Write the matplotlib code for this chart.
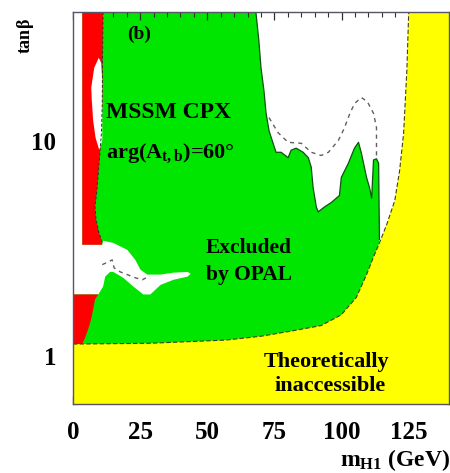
import matplotlib
matplotlib.use("Agg")
import matplotlib.pyplot as plt
from matplotlib.ticker import FixedLocator, NullFormatter, MultipleLocator

plt.rcParams['font.family'] = ['Liberation Serif', 'DejaVu Serif']
plt.rcParams['font.weight'] = 'bold'
plt.rcParams['mathtext.fontset'] = 'custom'
plt.rcParams['mathtext.rm'] = 'Liberation Serif:bold'
plt.rcParams['mathtext.it'] = 'Liberation Serif:bold'
plt.rcParams['mathtext.bf'] = 'Liberation Serif:bold'

# ---- data (mH1 in GeV, tan beta) ----
green_x = [0, 68.1, 69.2, 70.0, 71.1, 71.9, 73.0, 74.5, 75.6, 77.5, 80.1, 81.2, 83.1, 85.7,
           87.6, 88.7, 89.4, 90.6, 91.3, 93.6, 96.2, 99.2, 99.9, 102.5, 104.8, 106.3, 107.4,
           109.3, 110.4, 111.2, 111.9, 113.0, 113.8, 114.1, 113.5, 113.5, 0]
green_y = [40, 40, 29.4, 22.0, 17.2, 13.5, 11.2, 9.8, 8.9, 8.9, 8.4, 9.1, 9.3, 8.9,
           8.4, 7.6, 6.1, 4.95, 4.7, 4.95, 5.2, 5.6, 6.8, 7.9, 9.3, 9.9, 8.8,
           6.8, 6.1, 5.45, 8.2, 8.3, 7.9, 3.5, 3.0, 0.6, 0.6]

red_top_x = [3.4, 11.2, 11.0, 10.9, 10.6, 10.1, 9.0, 8.2, 8.6, 9.7, 10.9, 10.9, 3.4]
red_top_y = [40, 40, 25, 15, 11, 9.1, 6.1, 4.95, 4.3, 3.75, 3.37, 3.3, 3.3]

sliver_x = [9.6, 7.9, 6.8, 7.0, 7.5, 8.4, 9.8, 10.9, 10.9, 10.9, 10.5]
sliver_y = [24.5, 22.0, 17.8, 15.5, 12.5, 10.4, 9.1, 10.1, 13.9, 19.2, 23.2]

white_x = [0, 3.4, 3.4, 10.9, 11.2, 15.0, 20.2, 23.2, 25.1, 27.7, 32.6, 37.4, 42.7, 43.8,
           42.7, 37.4, 32.6, 28.8, 26.2, 22.5, 18.7, 15.0, 13.8, 12.0, 11.2, 9.4, 0]
white_y = [40, 40, 3.3, 3.3, 3.45, 3.37, 3.13, 2.81, 2.53, 2.40, 2.40, 2.45, 2.47, 2.42,
           2.35, 2.27, 2.15, 1.94, 1.94, 2.11, 2.32, 2.47, 2.47, 2.35, 2.11, 1.94, 1.94]

red_low_x = [0, 9.4, 8.2, 7.5, 6.7, 5.6, 4.5, 3.4, 0]
red_low_y = [1.94, 1.94, 1.84, 1.65, 1.48, 1.33, 1.22, 1.14, 1.14]

theory_x = [0, 28.8, 56.9, 70.0, 81.2, 92.4, 99.9, 105.5, 109.3, 111.9, 113.8, 116.8,
            119.8, 121.6, 123.1, 124.3, 125.0]
theory_y = [1.14, 1.15, 1.19, 1.24, 1.31, 1.39, 1.56, 1.88, 2.40, 2.90, 3.3, 4.1,
            5.3, 7.3, 10.9, 21.3, 40]

exp_hi_x = [73.0, 76.3, 80.1, 85.0, 88.7, 92.4, 95.1, 98.8, 101.0, 102.9, 104.8, 107.4,
            109.6, 111.9, 113.0, 113.0]
exp_hi_y = [12.9, 11.0, 9.9, 9.8, 8.9, 8.6, 8.9, 10.1, 11.5, 13.3, 15.0, 16.0,
            15.3, 13.5, 11.6, 8.3]

exp_lo_x = [10.9, 13.1, 14.6, 15.3, 17.6, 20.2, 23.2, 25.8, 28.1]
exp_lo_y = [2.67, 2.75, 2.81, 2.58, 2.47, 2.40, 2.32, 2.27, 2.35]

x_ticks = [0, 25, 50, 75, 100, 125]
y_ticks = [1, 10]
y_tick_labels = ['1', '10']
y_minor = [0.6, 0.7, 0.8, 0.9, 2, 3, 4, 5, 6, 7, 8, 9, 20, 30]

XMAX, YMIN, YMAX = 140, 0.6, 40

GREEN = '#00e600'
RED = '#ff0000'
YELLOW = '#ffff00'

fig = plt.figure(figsize=(4.5, 4.73), dpi=100)
ax = fig.add_axes([73/450, (473-404)/473, (449-73)/450, (404-12)/473])
ax.set_yscale('log')
ax.set_xlim(0, XMAX)
ax.set_ylim(YMIN, YMAX)

ax.fill(green_x, green_y, color=GREEN, lw=0, zorder=1)
ax.plot(green_x[1:34], green_y[1:34], color='#105010', lw=0.9, zorder=5)
ax.fill(red_top_x, red_top_y, color=RED, lw=0, zorder=2)
ax.plot(red_top_x[1:11], red_top_y[1:11], color='#303030', lw=0.7, ls=(0, (3, 2)), zorder=5)
ax.fill(sliver_x, sliver_y, color='white', lw=0, zorder=3)
ax.fill(white_x, white_y, color='white', lw=0, zorder=3)
ax.fill(red_low_x, red_low_y, color=RED, lw=0, zorder=3)

yx = theory_x + [XMAX, XMAX, 0]
yy = theory_y + [YMAX, YMIN, YMIN]
ax.fill(yx, yy, color=YELLOW, lw=0, zorder=4)
ax.plot(theory_x, theory_y, color='#404020', lw=0.8, ls=(0, (4, 2)), zorder=5)

ax.plot(exp_hi_x, exp_hi_y, color='#606060', lw=1.0, ls=(0, (3, 3)), zorder=5)
ax.plot(exp_lo_x, exp_lo_y, color='#606060', lw=1.0, ls=(0, (3, 3)), zorder=5)

# ticks
ax.xaxis.set_major_locator(FixedLocator(x_ticks))
ax.xaxis.set_minor_locator(MultipleLocator(5))
ax.set_xticklabels([str(v) for v in x_ticks])
ax.yaxis.set_major_locator(FixedLocator(y_ticks))
ax.yaxis.set_minor_locator(FixedLocator(y_minor))
ax.yaxis.set_minor_formatter(NullFormatter())
ax.set_yticklabels(y_tick_labels)
ax.tick_params(which='both', direction='in', top=True, right=True, color='#303030')
ax.tick_params(which='major', length=6, width=0.9, labelsize=18, pad=12)
ax.tick_params(which='minor', length=3.5, width=0.8)
for lab in ax.get_xticklabels() + ax.get_yticklabels():
    lab.set_fontweight('bold')
for s in ax.spines.values():
    s.set_color('#555566')
    s.set_linewidth(1.0)
    s.set_zorder(6)

# annotations
ax.text(20.2, 30.0, '(b)', fontsize=14, fontweight='bold', zorder=7)
ax.text(12.4, 12.8, 'MSSM CPX', fontsize=17, fontweight='bold', zorder=7)
ax.text(12.4, 8.34, r'arg(A$_{\rm t,b}$)=60°', fontsize=16, fontweight='bold', zorder=7)
ax.text(49.4, 3.03, 'Excluded', fontsize=15.5, fontweight='bold', zorder=7)
ax.text(49.4, 2.27, 'by OPAL', fontsize=15.5, fontweight='bold', zorder=7)
ax.text(71.1, 0.889, 'Theoretically', fontsize=16, fontweight='bold', zorder=7)
ax.text(74.9, 0.689, 'inaccessible', fontsize=16, fontweight='bold', zorder=7)

fig.text(26/450, 1 - 36/473, r'tan$\beta$', rotation=90, fontsize=13, fontweight='bold',
         ha='center', va='center')
fig.text(340/450, (473-466)/473, r'm$_{\rm H1}$ (GeV)', fontsize=17, fontweight='bold',
         ha='left', va='baseline')

fig.savefig('out.png', dpi=100)
